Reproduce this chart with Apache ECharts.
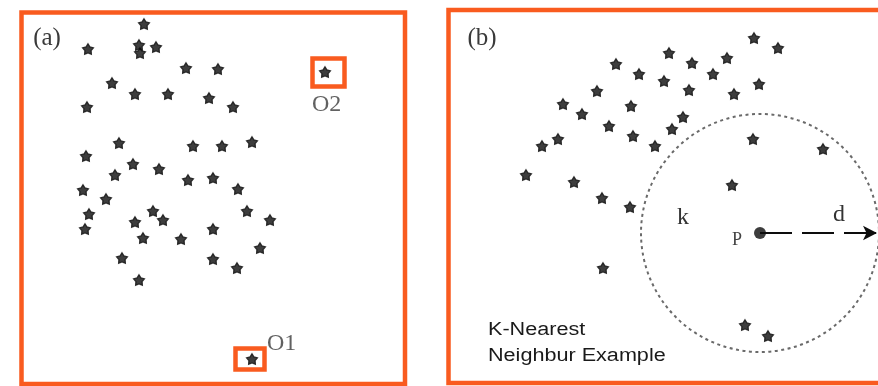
<!DOCTYPE html>
<html>
<head>
<meta charset="utf-8">
<script src="https://cdn.jsdelivr.net/npm/echarts@6/dist/echarts.min.js"></script>
<style>
  html, body { margin: 0; padding: 0; background: #fff; }
  #chart { width: 878px; height: 386px; }
</style>
</head>
<body>
<div id="chart"></div>
<script>
// Panel (a): the main cloud of observations (x, y in panel units)
const clusterA = [
  [144, 24], [88, 49], [139, 45], [140, 53], [156, 47], [186, 68], [218, 69],
  [112, 83], [135, 94], [168, 94], [209, 98], [233, 107], [87, 107],
  [119, 143], [193, 146], [222, 146], [252, 142], [86, 156], [133, 164],
  [159, 169], [115, 175], [188, 180], [213, 178], [238, 189], [83, 190],
  [106, 199], [89, 214], [85, 229], [135, 222], [153, 211], [163, 220],
  [143, 238], [181, 239], [213, 229], [247, 211], [270, 220], [260, 248],
  [213, 259], [237, 268], [122, 258], [139, 280]
];
// Panel (a): the two outliers
const outliers = [[252, 359], [325, 72]];
const outlierNames = ['O1', 'O2'];
// Boxes framing the outliers: [x1, y1, x2, y2]
const outlierBoxes = [[235.5, 348.5, 264.5, 369.5], [312.5, 58.5, 344.5, 86.5]];

// Panel (b): observations around the query point
const pointsB = [
  [616, 64], [639, 74], [597, 91], [563, 104], [582, 114], [631, 106],
  [609, 126], [633, 136], [655, 146], [558, 139], [542, 146], [526, 175],
  [574, 182], [602, 198], [630, 207], [603, 268], [754, 38], [778, 48],
  [669, 53], [692, 63], [727, 58], [713, 74], [664, 81], [689, 90],
  [734, 94], [759, 84], [683, 117], [672, 129], [753, 139], [823, 149],
  [732, 185], [745, 325], [768, 336]
];
// Query point P, neighbourhood radius d, end of the radius arrow
const queryP = [760, 233];
const radiusD = 119;
const arrowEnd = [877, 233];

const ORANGE = '#f95b1f';
const INK = '#0d0d0d';
const STAR = 'path://M0,-100 L33.5,-46.1 L95.1,-30.9 L54.2,17.6 L58.8,80.9 L0,57 L-58.8,80.9 L-54.2,17.6 L-95.1,-30.9 L-33.5,-46.1 Z';

const chart = echarts.init(document.getElementById('chart'), null, { renderer: 'canvas' });

const hiddenX = (idx, min, max) => ({ type: 'value', gridIndex: idx, min, max, show: false });
const hiddenY = (idx, min, max) => ({ type: 'value', gridIndex: idx, min, max, inverse: true, show: false });

const starSeries = (gi, data) => ({
  type: 'scatter', xAxisIndex: gi, yAxisIndex: gi, data,
  symbol: STAR, symbolSize: [11, 10.5],
  itemStyle: { color: INK, borderColor: INK, borderWidth: 1.2 },
  silent: true, animation: false, z: 5
});

chart.setOption({
  animation: false,
  grid: [
    { left: 21.5, top: 12.5, width: 383.5, height: 371.5, show: true,
      borderColor: ORANGE, borderWidth: 4.5, backgroundColor: 'transparent' },
    { left: 448.5, top: 10, width: 429.5, height: 373, show: false }
  ],
  xAxis: [hiddenX(0, 21.5, 405), hiddenX(1, 448.5, 878)],
  yAxis: [hiddenY(0, 12.5, 384), hiddenY(1, 10, 383)],
  series: [
    starSeries(0, clusterA),
    Object.assign(starSeries(0, outliers.map((p, i) => ({ value: p, name: outlierNames[i] }))), {
      label: {
        show: true,
        formatter: '{b}',
        fontFamily: 'Liberation Serif', fontSize: 24, color: '#3a3a3a',
        position: [0, 0]
      },
      labelLayout: function (params) {
        // O1 sits up-right of its box, O2 just below its box
        if (params.dataIndex === 0) return { dx: 21, dy: -21 };
        return { dx: -7, dy: 27 };
      }
    }),
    {
      type: 'custom', xAxisIndex: 0, yAxisIndex: 0, data: outlierBoxes,
      silent: true, z: 4,
      renderItem: function (params, api) {
        const a = api.coord([api.value(0), api.value(1)]);
        const b = api.coord([api.value(2), api.value(3)]);
        return {
          type: 'rect',
          shape: { x: a[0], y: a[1], width: b[0] - a[0], height: b[1] - a[1] },
          style: { fill: 'none', stroke: ORANGE, lineWidth: 4.5 }
        };
      }
    },
    starSeries(1, pointsB),
    {
      type: 'custom', xAxisIndex: 1, yAxisIndex: 1,
      data: [[queryP[0], queryP[1], radiusD]], silent: true, z: 3,
      renderItem: function (params, api) {
        const c = api.coord([api.value(0), api.value(1)]);
        const s = api.size([api.value(2), api.value(2)]);
        return {
          type: 'circle',
          shape: { cx: c[0], cy: c[1], r: s[0] },
          style: { fill: 'none', stroke: '#6a6a6a', lineWidth: 2, lineDash: [3, 3.5] }
        };
      }
    },
    {
      type: 'scatter', xAxisIndex: 1, yAxisIndex: 1, data: [queryP],
      symbol: 'circle', symbolSize: 12, itemStyle: { color: INK },
      silent: true, z: 6,
      markLine: {
        silent: true,
        symbol: ['none', 'arrow'], symbolSize: [11, 14],
        label: { show: false },
        lineStyle: { color: INK, width: 2.2, type: [32, 10] },
        data: [[{ coord: queryP }, { coord: arrowEnd }]]
      }
    }
  ],
  graphic: [
    // Frame of panel (b); its right side runs past the page edge
    { type: 'rect', shape: { x: 448.5, y: 10, width: 460, height: 373 },
      style: { fill: 'none', stroke: ORANGE, lineWidth: 4.5 }, z: 10 },
    { type: 'text', x: 47, y: 38, style: { text: '(a)', font: '25px "Liberation Serif"', fill: '#3a3a3a', align: 'center', verticalAlign: 'middle' } },
    { type: 'text', x: 482, y: 38, style: { text: '(b)', font: '25px "Liberation Serif"', fill: '#3a3a3a', align: 'center', verticalAlign: 'middle' } },
    { type: 'text', x: 683, y: 218, style: { text: 'k', font: '24px "Liberation Serif"', fill: '#333', align: 'center', verticalAlign: 'middle' } },
    { type: 'text', x: 839, y: 215, style: { text: 'd', font: '24px "Liberation Serif"', fill: '#333', align: 'center', verticalAlign: 'middle' } },
    { type: 'text', x: 737, y: 240, style: { text: 'P', font: '18px "Liberation Serif"', fill: '#444', align: 'center', verticalAlign: 'middle' } },
    { type: 'text', x: 488, y: 330, scaleX: 1.2, originX: 0, style: { text: 'K-Nearest', font: '18px "Liberation Sans"', fill: '#1a1a1a', align: 'left', verticalAlign: 'middle' } },
    { type: 'text', x: 488, y: 356, scaleX: 1.2, originX: 0, style: { text: 'Neighbur Example', font: '18px "Liberation Sans"', fill: '#1a1a1a', align: 'left', verticalAlign: 'middle' } }
  ]
});
</script>
</body>
</html>
